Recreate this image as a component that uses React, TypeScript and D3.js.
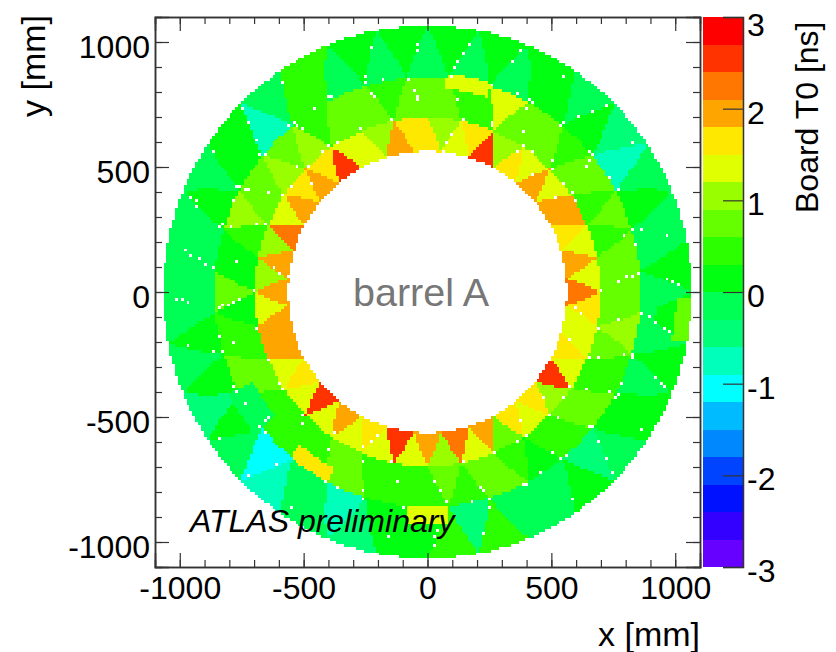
import React, { useEffect, useRef } from 'react'
import * as d3 from 'd3'

// radii of the three module layers, mm
const layerRadii = [563, 696, 860, 1066]

// Board T0 in ns, one triangle every 5.625 deg going counter clockwise from +x
const innerLayerT0 = [
  2.25, 1.35, 1.95, 1.35, 1.65, 1.95, 1.95, 1.35, 1.95, 1.35, 1.65, 1.05, 2.55, 1.65, 1.35, 1.05,
  1.65, 1.65, 1.95, 1.05, 1.35, 1.35, 2.55, 1.65, 1.95, 1.65, 1.95, 1.35, 2.25, 1.05, 1.95, 1.05,
  1.95, 1.35, 1.95, 1.95, 1.95, 1.35, 1.65, 1.35, 2.55, 1.35, 1.95, 1.35, 1.65, 1.35, 2.55, 1.35,
  1.95, 1.05, 2.25, 1.35, 1.95, 0.75, 1.65, 1.35, 1.65, 1.05, 2.55, 1.35, 1.65, 1.35, 1.35, 1.65,
]
const middleLayerT0 = [
  0.75, 0.75, 0.75, 0.45, 0.75, 0.45, 0.75, 0.75, 0.45, 0.75, 0.75, 0.75, 1.35, 0.45, 0.45, 0.75,
  0.75, 0.75, 0.45, 0.75, 0.75, 0.75, 0.45, 1.05, 0.75, 1.05, 0.75, 0.75, 1.05, 0.45, 0.15, 0.15,
  0.75, 0.15, 0.45, 0.45, 0.75, 0.75, 0.45, 0.45, 0.45, 0.45, 0.45, 0.75, 0.75, 0.45, 0.45, 0.45,
  0.45, 0.75, 0.45, 0.75, 0.75, 0.45, 0.15, 0.45, 0.45, 0.75, 0.75, 0.45, 0.45, 0.75, 1.05, 0.75,
]
const outerLayerT0 = [
  -0.15, 0.15, -0.15, -0.15, 0.15, -0.15, -0.75, -0.45, 0.15, -0.15, 0.15, 0.15, -0.15, 0.15, -0.15, 0.15,
  -0.15, 0.15, -0.15, 0.15, -0.15, 0.45, 0.45, -0.15, -0.75, 0.15, 0.15, -0.15, 0.15, -0.15, -0.15, -0.15,
  -0.15, -0.15, 0.15, -0.15, 0.15, -0.45, 0.15, -0.15, -1.05, -0.75, -0.15, -0.15, -0.75, -0.45, 0.15, 0.15,
  0.15, 0.45, -0.45, 0.45, -0.15, -0.15, -0.15, 0.15, -0.45, -0.15, 0.15, 0.15, -0.15, 0.15, -0.15, 0.15,
]
const layerT0 = [innerLayerT0, middleLayerT0, outerLayerT0]

// small boards that stick out of the triangle pattern: phi from, phi to, r from, r to, T0
const oddBoards = [
  [73, 85, 815, 875, 1.35],
  [230, 242, 800, 862, 1.65],
  [265, 275, 862, 925, 1.35],
  [349, 359, 1005, 1066, 0.75],
  [207, 219, 790, 900, -0.15],
  [345, 360, 860, 925, -0.15],
]

// bins with no entries, x and y in mm
const emptyBins = [
  [-223, 981], [-36, 990], [-40, 966], [-246, 866], [-246, 834], [-181, 846], [-77, 846], [-56, 810], [-40, 786], [-36, 766],
  [-230, 798], [-214, 786], [-141, 691], [-403, 778], [-383, 782], [-456, 739], [-544, 679], [-565, 663], [-528, 663], [-504, 651],
  [-585, 842], [-746, 731], [-726, 679], [-694, 611], [-867, 559], [-673, 547], [-657, 547], [-399, 587], [-367, 599], [-270, 651],
  [-423, 559], [-484, 507], [-524, 507], [-552, 427], [-464, 431], [-758, 427], [-766, 419], [-734, 407], [-726, 407], [-637, 399],
  [-585, 387], [-786, 367], [-952, 379], [-935, 359], [-927, 347], [-835, 263], [-823, 271], [-794, 259], [-685, 271], [-657, 271],
  [-984, 168], [-952, 148], [-923, 132], [-895, 108], [-867, 100], [-766, 120], [-625, 100], [-597, 80], [-565, 68], [-702, 0],
  [165, 990], [141, 958], [125, 926], [105, 898], [97, 866], [375, 962], [343, 926], [552, 866], [262, 830], [367, 790],
  [411, 766], [427, 758], [403, 730], [726, 746], [669, 726], [605, 698], [548, 675], [544, 663], [117, 770], [141, 687],
  [97, 631], [73, 599], [65, 567], [262, 683], [262, 663], [391, 643], [831, 591], [649, 567], [669, 547], [649, 527],
  [645, 507], [383, 587], [367, 567], [423, 559], [504, 527], [504, 491], [423, 471], [552, 431], [734, 459], [770, 407],
  [581, 399], [593, 367], [516, 379], [827, 251], [867, 251], [790, 224], [972, 228], [843, 188], [847, 80], [823, 68],
  [802, 60], [766, 40], [964, 48], [988, 40], [1016, 28], [698, 4],
  [-1016, -24], [-988, -32], [-964, -40], [-843, -68], [-823, -56], [-802, -48], [-782, -40], [-762, -32], [-690, -140], [-843, -184],
  [-863, -240], [-831, -240], [-786, -208], [-972, -220], [-645, -271], [-593, -363], [-581, -387], [-778, -379], [-774, -399], [-734, -451],
  [-645, -499], [-657, -519], [-673, -543], [-657, -559], [-835, -579], [-500, -495], [-504, -523], [-371, -559], [-399, -631], [-202, -571],
  [-230, -599], [-258, -615], [-605, -691], [-726, -739], [-552, -862], [-411, -758], [-367, -778], [-266, -679], [-258, -794], [-258, -826],
  [-117, -758], [-141, -679], [-161, -978], [-97, -858],
  [593, -68], [625, -92], [685, -140], [766, -112], [867, -92], [895, -100], [923, -120], [952, -140], [984, -160], [577, -196],
  [649, -259], [685, -259], [790, -251], [827, -259], [831, -251], [577, -379], [637, -387], [782, -363], [730, -399], [766, -411],
  [754, -419], [919, -339], [940, -359], [956, -375], [464, -419], [552, -419], [496, -487], [524, -499], [375, -511], [395, -571],
  [367, -591], [649, -543], [669, -543], [867, -551], [508, -639], [565, -651], [544, -671], [274, -639], [694, -599], [726, -671],
  [750, -723], [456, -727], [403, -766], [387, -766], [218, -782], [226, -790], [246, -826], [246, -862], [185, -838], [141, -679],
  [32, -758], [52, -794], [77, -838], [585, -830], [226, -970], [32, -978], [24, -1010], [40, -958],
]

const palette = [
  '#6600ff', '#3300ff', '#0011ff', '#0044ff', '#0088ff', '#00bbff', '#00ffff', '#00ffbb', '#00ff77', '#00ff55',
  '#00ff11', '#2bff00', '#66ff00', '#99ff00', '#e0ff00', '#ffe800', '#ffa500', '#ff7700', '#ff3300', '#ff0000',
]

const majorTicks = [-1000, -500, 0, 500, 1000]
const minorTicks = d3.range(-1000, 1001, 100)
const zTicks = [-3, -2, -1, 0, 1, 2, 3]

const width = 836
const height = 652
const axisLimit = 1100
const nBins = 190
const phiStep = 5.625

const x = d3.scaleLinear().domain([-axisLimit, axisLimit]).range([155, 700])
const y = d3.scaleLinear().domain([-axisLimit, axisLimit]).range([567, 17])
const z = d3.scaleLinear().domain([-3, 3]).range([567, 17])
const colour = d3.scaleQuantize<string>().domain([-3, 3]).range(palette)
const binEdge = d3.scaleLinear().domain([0, nBins]).range([-axisLimit, axisLimit])

const binOf = (v: number) => Math.floor(binEdge.invert(v))

// which board a point in the barrel belongs to
function boardT0(px: number, py: number) {
  const r = Math.hypot(px, py)
  if (r < layerRadii[0] || r > layerRadii[3]) return null
  const phi = (Math.atan2(py, px) * 180 / Math.PI + 360) % 360
  for (const [p0, p1, r0, r1, t0] of oddBoards) {
    if (phi >= p0 && phi <= p1 && r >= r0 && r <= r1) return t0
  }
  const layer = d3.bisectRight(layerRadii, r) - 1
  const ring = Math.min(layer, 2)
  const t = (r - layerRadii[ring]) / (layerRadii[ring + 1] - layerRadii[ring])
  const a = phi / phiStep
  const m = Math.floor(a)
  const f = a - m
  const baseInside = (m + ring) % 2 === 0
  const first = baseInside ? f <= 1 - t : f <= t
  const values = layerT0[ring]
  return values[(first ? m : m + 1) % values.length]
}

function buildBinPaths() {
  const empty = new Set(emptyBins.map(([ex, ey]) => binOf(ex) + '_' + binOf(ey)))
  const paths = new Map<string, d3.Path>()
  palette.forEach((c) => paths.set(c, d3.path()))
  d3.range(nBins).forEach((i) => {
    d3.range(nBins).forEach((j) => {
      if (empty.has(i + '_' + j)) return
      const t0 = boardT0(binEdge(i + 0.5), binEdge(j + 0.5))
      if (t0 === null) return
      const left = x(binEdge(i))
      const top = y(binEdge(j + 1))
      paths.get(colour(t0))!.rect(left, top, x(binEdge(i + 1)) - left, y(binEdge(j)) - top)
    })
  })
  return palette.map((c) => ({ colour: c, d: paths.get(c)!.toString() }))
}

const binPaths = buildBinPaths()

export default function App() {
  const axesRef = useRef<SVGGElement>(null)

  useEffect(() => {
    const g = d3.select(axesRef.current)
    g.selectAll('*').remove()
    const noLabel = () => ''
    const sides = [
      { make: d3.axisBottom, scale: x, at: `translate(0,${y(-axisLimit)})`, labels: true, pad: 9 },
      { make: d3.axisTop, scale: x, at: `translate(0,${y(axisLimit)})`, labels: false, pad: 0 },
      { make: d3.axisLeft, scale: y, at: `translate(${x(-axisLimit)},0)`, labels: true, pad: 5 },
      { make: d3.axisRight, scale: y, at: `translate(${x(axisLimit)},0)`, labels: false, pad: 0 },
    ]
    sides.forEach((s) => {
      g.append('g').attr('transform', s.at)
        .call(s.make(s.scale).tickValues(minorTicks).tickSize(-7).tickFormat(noLabel))
      g.append('g').attr('class', s.make === d3.axisLeft ? 'leftaxis' : '').attr('transform', s.at)
        .call(s.make(s.scale).tickValues(majorTicks).tickSize(-14).tickPadding(s.pad)
          .tickFormat(s.labels ? (d: any) => String(d) : noLabel))
    })

    // colour bar axis
    g.append('g').attr('class', 'zaxis').attr('transform', 'translate(743,0)')
      .call(d3.axisRight(z).tickValues(zTicks).tickSize(-20).tickPadding(4).tickFormat((d: any) => String(d)))

    g.selectAll('path.domain').attr('stroke', '#333').attr('stroke-width', 1.5)
    g.selectAll('.tick line').attr('stroke', '#333').attr('stroke-width', 1.2)
    g.selectAll('text').attr('font-family', 'Liberation Sans').attr('font-size', 32).attr('fill', '#000')
    g.selectAll('.leftaxis text').attr('dy', '0.47em')
    g.selectAll('.zaxis text').attr('dy', (d: any) => (d === 3 ? '0.57em' : '0.45em'))
  }, [])

  return (
    <svg width={width} height={height} style={{ position: 'absolute', left: 0, top: 0, background: '#fff' }}>
      <g shapeRendering="crispEdges">
        {binPaths.map((p) => <path key={p.colour} d={p.d} fill={p.colour} />)}
        {palette.map((c, i) => (
          <rect key={c} x={703} width={40} y={z(-3 + (i + 1) * 0.3)} height={z(-3 + i * 0.3) - z(-3 + (i + 1) * 0.3)} fill={c} />
        ))}
      </g>
      <g ref={axesRef} />
      <g fontFamily="Liberation Sans" fill="#000">
        <text x={700} y={646} textAnchor="end" fontSize={34}>x [mm]</text>
        <text transform="translate(45,117) rotate(-90)" fontSize={34}>y [mm]</text>
        <text transform="translate(818,213) rotate(-90)" fontSize={32}>Board T0 [ns]</text>
        <text x={353} y={306} fontSize={39.5} fill="#777">barrel A</text>
        <text x={190} y={532} fontSize={32} fontStyle="italic">ATLAS preliminary</text>
      </g>
    </svg>
  )
}
